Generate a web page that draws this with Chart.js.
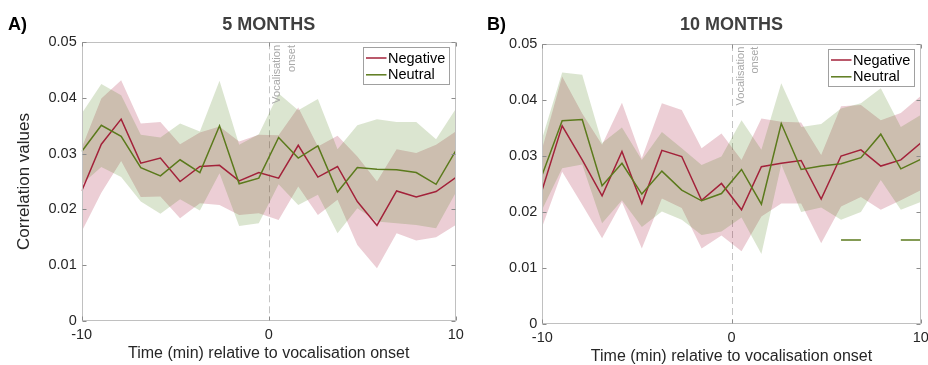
<!DOCTYPE html>
<html>
<head>
<meta charset="utf-8">
<script src="https://cdn.jsdelivr.net/npm/chart.js@4/dist/chart.umd.min.js"></script>
<style>
  html, body { margin: 0; padding: 0; background: #fff; }
  .panel { position: absolute; top: 0; width: 464px; height: 365px; }
</style>
</head>
<body>
<div class="panel" style="left:0"><canvas id="chart5" width="464" height="365"></canvas></div>
<div class="panel" style="left:464px"><canvas id="chart10" width="464" height="365"></canvas></div>
<script>
// time bins (min) relative to vocalisation onset
const timeMin = [-10, -8.95, -7.89, -6.84, -5.79, -4.74, -3.68, -2.63, -1.58, -0.53,
                 0.53, 1.58, 2.63, 3.68, 4.74, 5.79, 6.84, 7.89, 8.95, 10];
const xTickLabels = ['-10', '0', '10'];
const yTickLabels = ['0', '0.01', '0.02', '0.03', '0.04', '0.05'];
const seriesNames = ['Negative', 'Neutral'];

// 5 months
const negative5 = [0.0233, 0.0317, 0.0362, 0.0283, 0.0292, 0.0250, 0.0277, 0.0279, 0.0251, 0.0266,
                   0.0256, 0.0315, 0.0258, 0.0277, 0.0214, 0.0171, 0.0233, 0.0222, 0.0232, 0.0257];
const negative5Upper = [0.0310, 0.0399, 0.0432, 0.0354, 0.0357, 0.0317, 0.0338, 0.0349, 0.0322, 0.0334,
                        0.0333, 0.0383, 0.0313, 0.0332, 0.0295, 0.0250, 0.0308, 0.0301, 0.0316, 0.0340];
const negative5Lower = [0.0160, 0.0230, 0.0287, 0.0222, 0.0223, 0.0184, 0.0211, 0.0208, 0.0190, 0.0193,
                        0.0181, 0.0241, 0.0190, 0.0217, 0.0136, 0.0094, 0.0157, 0.0144, 0.0150, 0.0172];
const neutral5 = [0.0304, 0.0351, 0.0331, 0.0275, 0.0260, 0.0289, 0.0266, 0.0350, 0.0246, 0.0256,
                  0.0329, 0.0292, 0.0314, 0.0231, 0.0275, 0.0272, 0.0271, 0.0266, 0.0245, 0.0305];
const neutral5Upper = [0.0372, 0.0425, 0.0405, 0.0334, 0.0329, 0.0354, 0.0340, 0.0431, 0.0316, 0.0335,
                       0.0408, 0.0378, 0.0398, 0.0308, 0.0351, 0.0362, 0.0357, 0.0357, 0.0326, 0.0380];
const neutral5Lower = [0.0245, 0.0276, 0.0258, 0.0214, 0.0192, 0.0218, 0.0198, 0.0265, 0.0170, 0.0175,
                       0.0245, 0.0208, 0.0226, 0.0157, 0.0202, 0.0178, 0.0175, 0.0172, 0.0166, 0.0230];

// 10 months
const negative10 = [0.0240, 0.0354, 0.0293, 0.0229, 0.0308, 0.0215, 0.0310, 0.0299, 0.0221, 0.0251,
                    0.0204, 0.0281, 0.0287, 0.0292, 0.0223, 0.0300, 0.0311, 0.0282, 0.0293, 0.0323];
const negative10Upper = [0.0314, 0.0442, 0.0376, 0.0320, 0.0395, 0.0296, 0.0394, 0.0382, 0.0314, 0.0340,
                         0.0293, 0.0367, 0.0361, 0.0360, 0.0302, 0.0389, 0.0391, 0.0364, 0.0377, 0.0407];
const negative10Lower = [0.0174, 0.0272, 0.0213, 0.0153, 0.0218, 0.0135, 0.0224, 0.0207, 0.0135, 0.0158,
                         0.0130, 0.0192, 0.0215, 0.0215, 0.0144, 0.0210, 0.0227, 0.0204, 0.0221, 0.0239];
const neutral10 = [0.0267, 0.0363, 0.0365, 0.0247, 0.0287, 0.0232, 0.0273, 0.0239, 0.0220, 0.0233,
                   0.0276, 0.0214, 0.0358, 0.0276, 0.0282, 0.0286, 0.0297, 0.0339, 0.0277, 0.0294];
const neutral10Upper = [0.0332, 0.0449, 0.0445, 0.0323, 0.0351, 0.0293, 0.0343, 0.0314, 0.0284, 0.0299,
                        0.0364, 0.0311, 0.0430, 0.0352, 0.0357, 0.0385, 0.0394, 0.0421, 0.0352, 0.0373];
const neutral10Lower = [0.0205, 0.0278, 0.0285, 0.0180, 0.0221, 0.0173, 0.0201, 0.0186, 0.0159, 0.0165,
                        0.0190, 0.0125, 0.0285, 0.0200, 0.0208, 0.0186, 0.0200, 0.0257, 0.0204, 0.0218];

// significant neutral windows at 10 months (start, end in min), drawn at sigLevel
const neutral10Sig = [[5.79, 6.84], [8.95, 10]];
const sigLevel = 0.015;

const NEG_LINE = '#a3223a';
const NEU_LINE = '#5b7a1c';
const NEG_FILL = 'rgba(160, 10, 45, 0.2)';
const NEU_FILL = 'rgba(75, 125, 20, 0.2)';

Chart.defaults.font.family = '"Liberation Sans", Arial, Helvetica, sans-serif';
Chart.defaults.color = '#262626';

const pts = arr => timeMin.map((t, i) => ({ x: t, y: arr[i] }));

function bandSets(upper, lower, fill, order) {
  const common = { borderColor: 'transparent', borderWidth: 0, pointRadius: 0, order: order };
  return [
    Object.assign({ data: pts(upper), fill: false }, common),
    Object.assign({ data: pts(lower), fill: '-1', backgroundColor: fill }, common)
  ];
}

function lineSet(label, values, color, order) {
  return { label: label, data: pts(values), borderColor: color, borderWidth: 1.5,
           pointRadius: 0, fill: false, tension: 0, order: order, legendEntry: true };
}

// box, inner ticks, onset marker, legend and panel letter
const axesBox = {
  id: 'axesBox',
  beforeDatasetsDraw(chart) {
    const { ctx, chartArea: a, scales: { x } } = chart;
    const x0 = Math.round(x.getPixelForValue(0)) + 0.5;
    ctx.save();
    ctx.strokeStyle = '#c4c4c4';
    ctx.lineWidth = 1;
    ctx.setLineDash([7, 4]);
    ctx.beginPath();
    ctx.moveTo(x0, a.top);
    ctx.lineTo(x0, a.bottom);
    ctx.stroke();
    ctx.restore();
  },
  afterDraw(chart, args, opts) {
    const { ctx, chartArea: a, scales: { x, y } } = chart;
    ctx.save();

    // axes box with inward ticks
    ctx.strokeStyle = '#c0c0c0';
    ctx.lineWidth = 1;
    const L = Math.round(a.left) + 0.5, R = Math.round(a.right) - 0.5;
    const T = Math.round(a.top) + 0.5, B = Math.round(a.bottom) - 0.5;
    ctx.strokeRect(L, T, R - L, B - T);
    ctx.strokeStyle = '#8c8c8c';
    ctx.beginPath();
    y.ticks.forEach(t => {
      const py = Math.round(y.getPixelForValue(t.value)) + 0.5;
      ctx.moveTo(L, py); ctx.lineTo(L + 4, py);
      ctx.moveTo(R, py); ctx.lineTo(R - 4, py);
    });
    x.ticks.forEach(t => {
      const px = Math.round(x.getPixelForValue(t.value)) + 0.5;
      ctx.moveTo(px, B); ctx.lineTo(px, B - 4);
      ctx.moveTo(px, T); ctx.lineTo(px, T + 4);
    });
    ctx.stroke();

    // onset note, rotated, reading upwards
    const x0 = x.getPixelForValue(0);
    ctx.save();
    ctx.translate(x0 + opts.noteOffset, a.top + 2.7);
    ctx.rotate(-Math.PI / 2);
    ctx.fillStyle = '#a8a8a8';
    ctx.font = '11px "Liberation Sans", Arial, sans-serif';
    ctx.textAlign = 'right';
    ctx.textBaseline = 'middle';
    ctx.fillText('Vocalisation', 0, 0);
    ctx.fillText('onset', 0, 14.7);
    ctx.restore();

    // legend in the upper right corner
    const entries = chart.data.datasets.filter(d => d.legendEntry);
    const bw = 86, bh = 37;
    const bx = Math.round(a.right - 6.5 - bw) + 0.5, by = Math.round(a.top + 4.5) + 0.5;
    ctx.fillStyle = '#ffffff';
    ctx.fillRect(bx, by, bw, bh);
    ctx.strokeStyle = '#a0a0a0';
    ctx.strokeRect(bx, by, bw, bh);
    ctx.font = '14.5px "Liberation Sans", Arial, sans-serif';
    ctx.textAlign = 'left';
    ctx.textBaseline = 'middle';
    entries.forEach((d, i) => {
      const ly = by + 10.5 + i * 16.8;
      ctx.strokeStyle = d.borderColor;
      ctx.lineWidth = 1.5;
      ctx.beginPath();
      ctx.moveTo(bx + 2.5, ly); ctx.lineTo(bx + 23, ly);
      ctx.stroke();
      ctx.fillStyle = '#000';
      ctx.fillText(d.label, bx + 24.5, ly + 0.5);
    });

    // panel letter
    ctx.fillStyle = '#000';
    ctx.font = 'bold 18px "Liberation Sans", Arial, sans-serif';
    ctx.fillText(opts.letter, opts.letterX, 25.5);
    ctx.restore();
  }
};

function makePanel(id, o) {
  const datasets = [
    ...bandSets(o.negUpper, o.negLower, NEG_FILL, 4),
    ...bandSets(o.neuUpper, o.neuLower, NEU_FILL, 3),
    lineSet(seriesNames[0], o.neg, NEG_LINE, 2),
    lineSet(seriesNames[1], o.neu, NEU_LINE, 1)
  ];
  (o.sig || []).forEach(([t0, t1]) => {
    datasets.push({ data: [{ x: t0, y: sigLevel }, { x: t1, y: sigLevel }],
                    borderColor: NEU_LINE, borderWidth: 1.5, pointRadius: 0, fill: false, order: 0 });
  });

  return new Chart(document.getElementById(id), {
    type: 'line',
    data: { datasets: datasets },
    options: {
      responsive: false,
      animation: false,
      events: [],
      layout: { padding: { left: 0, right: o.padRight, top: 0, bottom: 0 } },
      scales: {
        x: {
          type: 'linear', min: -10, max: 10,
          grid: { display: false, drawTicks: false },
          border: { display: false },
          ticks: { stepSize: 10, padding: o.xTickPad, maxRotation: 0,
                   font: { size: 14.5 }, callback: (v, i) => xTickLabels[i] },
          title: { display: true, text: 'Time (min) relative to vocalisation onset',
                   font: { size: 16, lineHeight: 1 }, padding: { top: 0, bottom: o.xTitlePad } },
          afterFit: s => { s.height = o.xAxisHeight; s.paddingLeft = 0; s.paddingRight = 0; }
        },
        y: {
          min: 0, max: 0.05,
          grid: { display: false, drawTicks: false },
          border: { display: false },
          ticks: { stepSize: 0.01, padding: 5, font: { size: 14.5 },
                   callback: (v, i) => yTickLabels[i] },
          title: { display: !!o.yTitle, text: o.yTitle || '',
                   font: { size: 17 }, padding: { top: 13.8, bottom: 0 } },
          afterFit: s => { s.width = o.areaLeft; s.paddingTop = 0; s.paddingBottom = 0; }
        }
      },
      plugins: {
        legend: { display: false },
        tooltip: { enabled: false },
        title: {
          display: true, text: o.title, fullSize: false, color: '#3f3f3f',
          font: { size: 18, weight: 'bold' },
          padding: { top: 14.7, bottom: o.titleBottomPad }
        },
        axesBox: { letter: o.letter, letterX: o.letterX, noteOffset: o.noteOffset }
      }
    },
    plugins: [axesBox]
  });
}

makePanel('chart5', {
  title: '5 MONTHS', letter: 'A)', letterX: 8, yTitle: 'Correlation values',
  neg: negative5, negUpper: negative5Upper, negLower: negative5Lower,
  neu: neutral5, neuUpper: neutral5Upper, neuLower: neutral5Lower,
  areaLeft: 81.7, padRight: 8.3, titleBottomPad: 6, xAxisHeight: 44.3,
  xTickPad: 5.6, xTitlePad: 3, noteOffset: 8.3
});

makePanel('chart10', {
  title: '10 MONTHS', letter: 'B)', letterX: 23, yTitle: null,
  neg: negative10, negUpper: negative10Upper, negLower: negative10Lower,
  neu: neutral10, neuUpper: neutral10Upper, neuLower: neutral10Lower,
  sig: neutral10Sig,
  areaLeft: 78.3, padRight: 7.3, titleBottomPad: 7.7, xAxisHeight: 41,
  xTickPad: 5.3, xTitlePad: 0, noteOffset: 9
});
</script>
</body>
</html>
